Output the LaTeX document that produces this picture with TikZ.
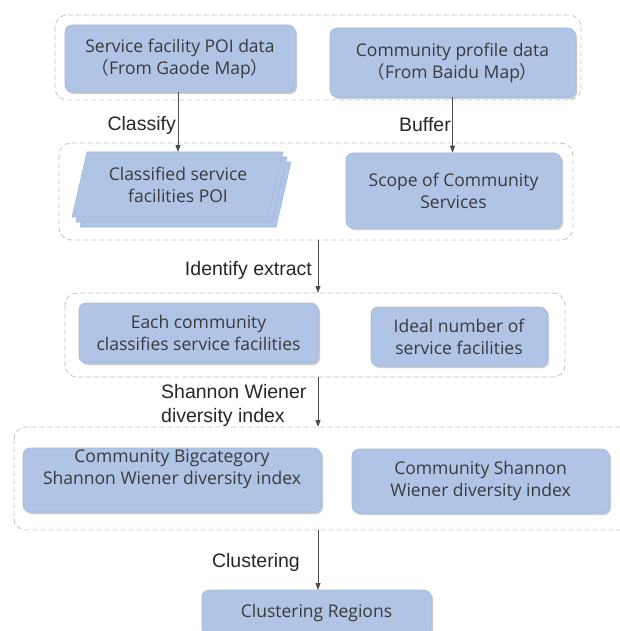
\documentclass[tikz,border=0pt]{standalone}
\usepackage{fontspec}
\setmainfont{Liberation Sans}
\newfontfamily\boxfont{Open Sans}
\newfontfamily\cjkfont{Noto Sans CJK SC}
\newcommand{\lp}{{\cjkfont （}}
\newcommand{\rp}{{\cjkfont ）}}
\usetikzlibrary{shadows,arrows.meta}
\definecolor{boxfill}{RGB}{176,196,230}
\definecolor{boxline}{RGB}{163,184,222}
\definecolor{txt}{RGB}{58,58,58}
\definecolor{grp}{RGB}{195,195,195}
\tikzset{
  x=1pt,y=-1pt,
  bfont/.style={font=\boxfont\fontsize{17.5}{22}\selectfont},
  proc/.style={draw=boxline,line width=0.6pt,fill=boxfill,rounded corners=7pt,
    text=txt,align=center,bfont,inner sep=0pt,
    drop shadow={shadow xshift=2pt,shadow yshift=-2pt,opacity=0.35,fill=black!60}},
  layer/.style={fill=boxfill,draw=boxline,line width=0.6pt},
  grpbox/.style={draw=grp,dash pattern=on 5pt off 3pt,line width=0.8pt,rounded corners=12pt},
  lab/.style={text=black!85,font=\fontsize{19.5}{24}\selectfont,inner sep=0pt},
  arr/.style={draw=black!70,line width=0.9pt,-{Triangle[length=7pt,width=5pt]}}
}
\begin{document}
\begin{tikzpicture}
\useasboundingbox (0,0) rectangle (619,631);
% groups
\draw[grpbox] (55,15) rectangle (581,100);
\draw[grpbox] (59,143) rectangle (573,240);
\draw[grpbox] (65,293) rectangle (565,377);
\draw[grpbox] (14,427) rectangle (660,530);
% group 1
\node[proc,minimum width=230pt,minimum height=67pt] (A) at (180,58.5) {Service facility POI data\\\lp From Gaode Map\rp};
\node[proc,minimum width=245pt,minimum height=69pt] (B) at (452.5,62.5) {Community profile data\\\lp From Baidu Map\rp};
% group 2: stacked parallelogram
\filldraw[layer] (95,162) -- (291,162) -- (276,227) -- (80,227) -- cycle;
\filldraw[layer] (91,157) -- (287,157) -- (272,222) -- (76,222) -- cycle;
\filldraw[layer] (87,152) -- (283,152) -- (268,217) -- (72,217) -- cycle;
\node[text=txt,align=center,bfont] (Ct) at (178,185) {Classified service\\facilities POI};
\coordinate (Ctop) at (178,152);
\node[proc,minimum width=215pt,minimum height=75pt] (D) at (453.5,190.5) {Scope of Community\\Services};
% group 3
\node[proc,minimum width=239pt,minimum height=60pt] (E) at (198.5,333) {Each community\\classifies service facilities};
\node[proc,minimum width=176pt,minimum height=59pt] (F) at (459,336.5) {Ideal number of\\service facilities};
% group 4
\node[proc,minimum width=298pt,minimum height=64pt] (G) at (172,480) {};
\node[text=txt,align=center,bfont] (Gt) at (172,469) {Community Bigcategory\\Shannon Wiener diversity index};
\node[proc,minimum width=257pt,minimum height=64pt] (H) at (480.5,481) {Community Shannon\\Wiener diversity index};
% final
\node[proc,minimum width=229pt,minimum height=46pt] (I) at (316.5,613) {Clustering Regions};
% connection coordinates
\coordinate (g2b) at (318,240);
\coordinate (g3t) at (318,293);
\coordinate (g3b) at (318,377);
\coordinate (g4t) at (318,427);
\coordinate (g4b) at (318,530);
\coordinate (Itop) at (318,590);
% arrows
\draw[arr] (A.south -| Ctop) -- (Ctop);
\draw[arr] (B.south) -- (B.south |- D.north);
\draw[arr] (g2b) -- (g3t);
\draw[arr] (g3b) -- (g4t);
\draw[arr] (g4b) -- (Itop);
% labels
\node[lab,anchor=east] (l1) at (176,125) {Classify};
\node[lab,anchor=east] (l2) at (451,125) {Buffer};
\node[lab,anchor=east] (l3) at (312,270) {Identify extract};
\node[lab,anchor=west,align=left] (l4) at (161,405) {Shannon Wiener\\diversity index};
\node[lab,anchor=east] (l5) at (300,562) {Clustering};
\end{tikzpicture}
\end{document}
